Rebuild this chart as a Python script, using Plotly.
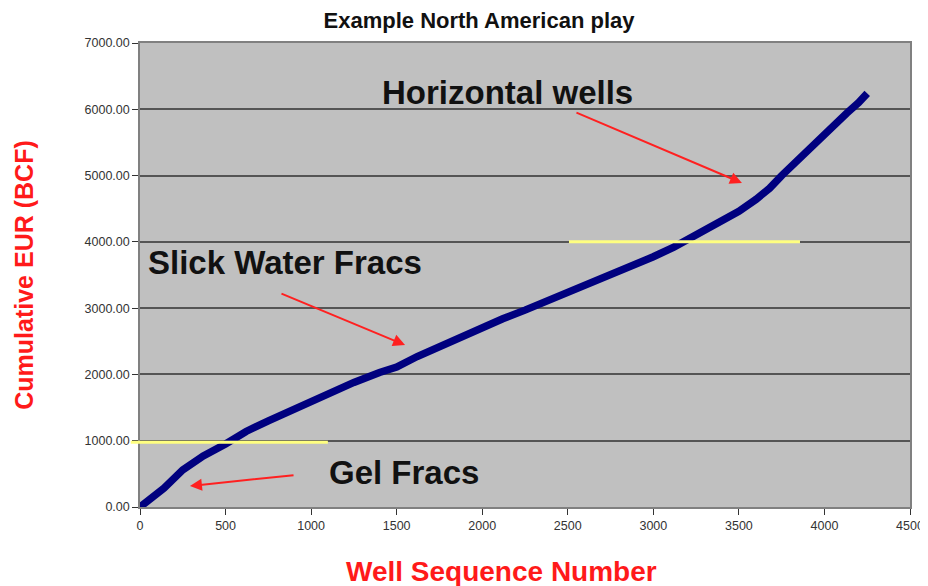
import plotly.graph_objects as go

# well sequence number vs cumulative EUR
wells = [0, 50, 140, 250, 370, 500, 620, 750, 900, 1000, 1100, 1250, 1400, 1500,
         1620, 1750, 1870, 2000, 2120, 2250, 2380, 2500, 2620, 2750, 2880, 3000,
         3120, 3250, 3380, 3500, 3600, 3680, 3750, 3850, 3920, 4000, 4070, 4130,
         4200, 4250]
eur = [0, 90, 285, 560, 770, 950, 1140, 1300, 1480, 1590, 1700, 1880, 2030, 2110,
       2270, 2420, 2560, 2720, 2840, 2970, 3110, 3245, 3370, 3500, 3630, 3775,
       3920, 4110, 4280, 4460, 4640, 4810, 5000, 5250, 5420, 5640, 5800, 5940,
       6100, 6240]

x_ticks = [0, 500, 1000, 1500, 2000, 2500, 3000, 3500, 4000, 4500]
y_ticks = [0, 1000, 2000, 3000, 4000, 5000, 6000, 7000]
y_labels = ["%.2f" % v for v in y_ticks]

# era labels and arrow (tail -> head) in data units
labels = ["Horizontal wells", "Slick Water Fracs", "Gel Fracs"]
label_x = [2145, 847, 1543]
label_y = [6246, 3696, 528]
arrow_tail = [(2542, 5959), (818, 3228), (906, 483)]
arrow_head = [(3518, 4888), (1549, 2444), (292, 317)]

fig = go.Figure()
fig.add_trace(go.Scatter(x=wells, y=eur, mode="lines",
                         line=dict(color="#00007F", width=7.5),
                         showlegend=False, hoverinfo="skip"))

txt_font = dict(family="Liberation Sans, Arial, sans-serif", size=33, color="#111111")
for name, tx, ty in zip(labels, label_x, label_y):
    fig.add_annotation(x=tx, y=ty, text="<b>%s</b>" % name, showarrow=False, font=txt_font)
for (x0, y0), (x1, y1) in zip(arrow_tail, arrow_head):
    fig.add_annotation(x=x1, y=y1, ax=x0, ay=y0, axref="x", ayref="y", text="",
                       showarrow=True, arrowhead=2, arrowsize=1.2, arrowwidth=2,
                       arrowcolor="#FF2020")

# x title sits a bit left of the plot centre in the original
fig.add_annotation(x=0.47, y=-0.139, xref="paper", yref="paper", yanchor="middle",
                   text="<b>Well Sequence Number</b>", showarrow=False,
                   font=dict(family="Liberation Sans, Arial, sans-serif", size=28,
                             color="#FF1A1A"))

# yellow markers for the transitions
fig.add_shape(type="line", xref="paper", yref="y", x0=-0.012, x1=0.244, y0=975, y1=975,
              line=dict(color="#FFFF80", width=3))
fig.add_shape(type="line", xref="x", yref="y", x0=2507, x1=3857, y0=4000, y1=4000,
              line=dict(color="#FFFF80", width=3))

# page body has an 8px margin, so the figure is drawn 8px smaller
fig.update_layout(
    width=920, height=578,
    margin=dict(l=132, r=18, t=35, b=79),
    paper_bgcolor="white", plot_bgcolor="#C0C0C0",
    title=dict(text="<b>Example North American play</b>", x=0.512, xanchor="center",
               y=0.979, yanchor="middle",
               font=dict(family="Liberation Sans, Arial, sans-serif", size=22, color="#111111")),
    font=dict(family="Liberation Sans Narrow, Arial Narrow, Liberation Sans, sans-serif",
              size=12.5, color="#333333"),
)
fig.update_xaxes(range=[0, 4500], tickvals=x_ticks, showgrid=False, zeroline=False,
                 automargin=False, ticks="outside", ticklen=6, tickcolor="#333333",
                 showline=True, linecolor="#808080", linewidth=1.5, mirror=True)
fig.update_yaxes(range=[0, 7000], tickvals=y_ticks, ticktext=y_labels,
                 showgrid=True, gridcolor="#555555", gridwidth=1.5, zeroline=False,
                 automargin=False, ticks="outside", ticklen=6, tickcolor="#333333",
                 showline=True, linecolor="#808080", linewidth=1.5, mirror=True,
                 title=dict(text="<b>Cumulative EUR (BCF)</b>", standoff=44,
                            font=dict(family="Liberation Sans, Arial, sans-serif",
                                      size=25, color="#FF1A1A")))

fig.write_html("out.html")
